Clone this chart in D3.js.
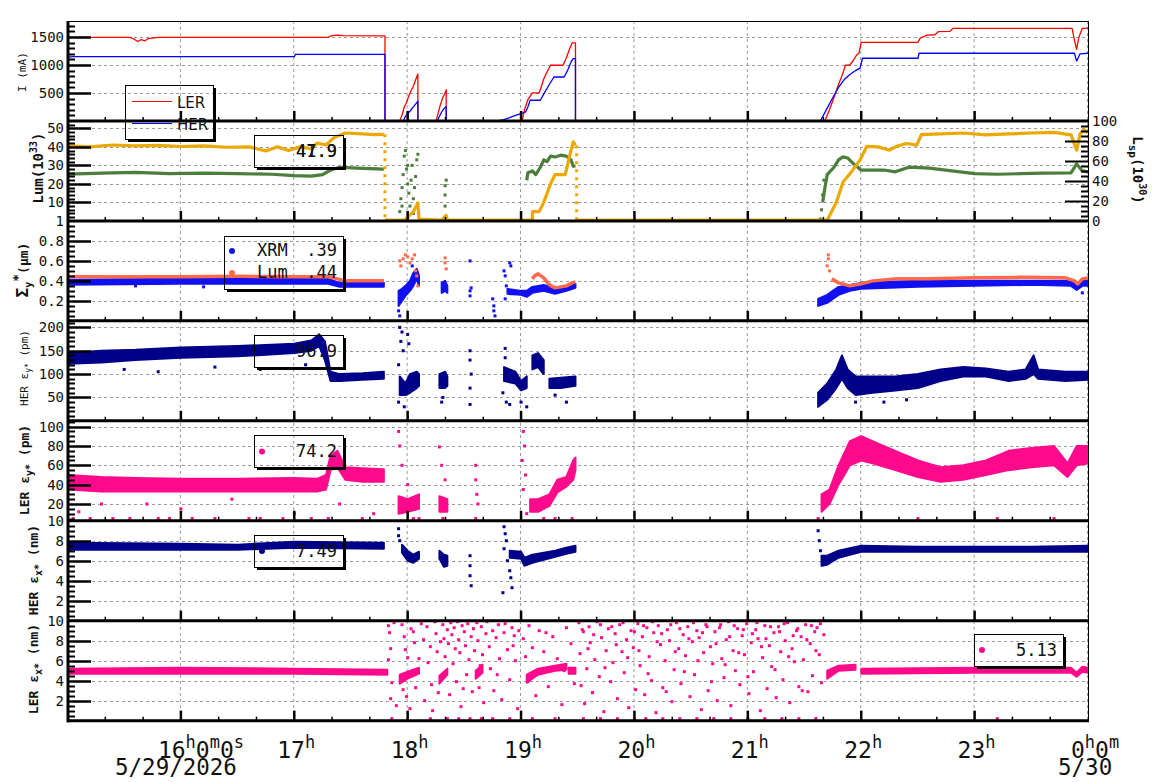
<!DOCTYPE html>
<meta charset="utf-8">
<style>
body { margin: 0; background: #fff; }
text { font-family: "DejaVu Sans Mono", monospace; fill: #111; }
</style>
<svg width="1160" height="782"></svg>
<script src="https://d3js.org/d3.v7.min.js"></script>
<script>

// ---- data (hours of 5/29, value) ----

// beam current (mA)
var lerCurrent = [[15.00,1495],[15.55,1495],[15.58,1470],[15.62,1420],[15.65,1455],[15.68,1430],[15.71,1470],[15.74,1480],[15.80,1495],
  [17.30,1495],[17.33,1525],[17.38,1535],[17.43,1525],[17.80,1520],[17.80,0],[17.93,0],[17.95,100],[17.97,250],[17.99,330],
  [18.01,450],[18.03,540],[18.05,620],[18.07,730],[18.09,840],[18.09,0],[18.25,0],[18.27,150],[18.29,300],[18.31,420],[18.33,500],
  [18.34,560],[18.34,0],[19.01,0],[19.03,200],[19.06,380],[19.10,500],[19.16,500],[19.18,620],[19.20,750],[19.23,880],[19.26,995],
  [19.37,995],[19.40,1130],[19.43,1300],[19.45,1395],[19.48,1395],[19.48,0],[21.68,0],[21.72,200],[21.76,420],[21.80,650],
  [21.84,860],[21.86,995],[21.90,1000],[21.93,1080],[21.96,1180],[21.98,1210],[22.00,1405],[22.50,1405],[22.52,1480],[22.58,1535],
  [22.65,1540],[22.68,1595],[22.78,1600],[22.81,1655],[23.86,1655],[23.88,1450],[23.90,1280],[23.92,1500],[23.95,1655],[24.00,1660]];
var herCurrent = [[15.00,1140],[15.05,1150],[17.00,1150],[17.01,1190],[17.80,1190],[17.80,0],[17.96,0],[17.98,80],[18.01,150],
  [18.03,200],[18.05,250],[18.07,300],[18.09,355],[18.09,0],[18.26,0],[18.28,80],[18.30,160],[18.32,220],[18.34,260],[18.34,0],
  [18.79,0],[18.85,25],[18.90,60],[18.95,100],[19.00,130],[19.04,160],[19.06,250],[19.08,370],[19.17,370],[19.20,480],[19.24,620],
  [19.29,785],[19.38,785],[19.41,900],[19.44,1050],[19.46,1115],[19.48,1115],[19.48,0],[21.64,0],[21.70,230],[21.75,420],
  [21.80,600],[21.85,740],[21.90,830],[21.95,900],[21.99,945],[22.01,1120],[22.50,1120],[22.51,1210],[23.88,1210],[23.90,1070],
  [23.93,1200],[24.00,1210]];

// luminosity (10^33)
var lumOrange = [[15.0,40.5],[15.2,40],[15.4,41],[15.6,40.5],[15.8,40.8],[16.0,40.2],[16.2,40.5],[16.4,39.8],[16.6,40],[16.75,37.8],
  [16.85,40],[16.95,38],[17.05,40],[17.15,39],[17.2,42],[17.28,41],[17.35,45],[17.45,47.5],[17.6,47],[17.7,46.6],[17.79,46.8],[null,null],
  [17.80,0.4],[17.97,0.4],[18.00,2],[18.05,5],[18.09,9.7],[18.10,1],[18.30,0.5],[18.34,3],[18.35,0.4],[19.10,0.4],[19.10,5],[19.16,5],
  [19.20,10],[19.26,20],[19.30,25],[19.39,25],[19.42,33],[19.46,42.7],[19.48,40.9],[null,null],[19.49,0.4],[21.70,0.4],[21.78,10],
  [21.84,21],[21.92,27],[21.99,33],[22.05,40.3],[22.15,40],[22.25,38.2],[22.32,40.5],[22.40,41.8],[22.49,40.9],[22.53,46.6],[22.7,47],
  [22.9,47.5],[23.1,46.5],[23.3,47],[23.5,47.5],[23.7,47.8],[23.85,46.5],[23.90,38.2],[23.93,47],[23.96,49.3],[24.0,47.5]];
var lumOrangeDrops = [[17.80,46.8],[19.49,40.9]];
var lumGreen = [[15.0,25.3],[15.3,25.8],[15.6,26.2],[15.9,25.5],[16.2,25.8],[16.5,25.5],[16.8,25.2],[17.0,24.5],[17.15,24.2],[17.25,25],
  [17.32,27.5],[17.4,29],[17.55,28.5],[17.79,28],[null,null],
  [19.05,22],[19.06,26],[19.10,27],[19.13,25],[19.17,29],[19.20,33],[19.23,32],[19.26,35],[19.30,34.5],[19.35,35.5],[19.40,35],
  [19.44,33],[19.46,29.5],[19.48,29.8],[null,null],
  [21.66,10],[21.68,18],[21.70,25],[21.73,27],[21.76,29],[21.80,33],[21.84,34.6],[21.88,34],[21.93,31],[21.97,29],[22.0,27.4],[22.2,27.5],
  [22.3,26.5],[22.42,29],[22.6,28.5],[22.8,27],[23.0,25.5],[23.2,25.2],[23.4,25.5],[23.6,25.8],[23.85,26],[23.90,30.8],[23.95,27],[24.0,26.5]];
var lumGreenDots = [[17.93,5],[17.94,12],[17.95,18],[17.96,25],[17.97,35],[17.98,38],[17.99,28],[18.00,20],[18.01,15],[18.02,8],[18.03,22],
  [18.04,30],[18.05,12],[18.06,18],[18.07,24],[18.08,33],[18.09,36],[18.05,4],[17.95,8],[18.0,30],[18.33,2],[18.33,8],[18.33,14],
  [18.33,19],[18.34,22],[21.64,1],[21.65,6],[21.66,14],[21.67,22]];

// sigma y* (um)
var sigLum = [[15.0,0.44],[15.5,0.44],[16.0,0.44],[16.5,0.445],[17.0,0.44],[17.3,0.44],[17.38,0.42],[17.45,0.40],[17.79,0.40],[null,null],
  [19.10,0.42],[19.12,0.45],[19.15,0.47],[19.20,0.43],[19.25,0.36],[19.30,0.33],[19.35,0.34],[19.40,0.35],[19.45,0.38],[19.48,0.39],[null,null],
  [21.74,0.42],[21.80,0.38],[21.90,0.35],[22.0,0.37],[22.1,0.40],[22.3,0.42],[22.6,0.42],[23.0,0.43],[23.4,0.435],[23.8,0.43],
  [23.88,0.40],[23.91,0.37],[23.95,0.42],[24.0,0.43]];
var sigLumDots = [[17.93,0.60],[17.94,0.55],[17.96,0.62],[17.98,0.66],[18.00,0.64],[18.02,0.58],[18.04,0.62],[18.06,0.66],[18.07,0.50],
  [18.08,0.45],[18.09,0.35],[18.33,0.63],[18.33,0.58],[18.34,0.52],[21.70,0.55],[21.71,0.62],[21.72,0.50],[21.71,0.66]];
var sigXrm = [[15.0,0.36,0.41],[16.0,0.37,0.42],[17.0,0.37,0.42],[17.3,0.37,0.42],[17.4,0.34,0.38],[17.79,0.34,0.38],[null,null,null],
  [17.92,0.15,0.30],[17.95,0.20,0.32],[17.98,0.25,0.35],[18.02,0.30,0.40],[18.05,0.35,0.48],[18.08,0.42,0.52],[18.10,0.35,0.45],[null,null,null],
  [18.30,0.28,0.38],[18.33,0.30,0.40],[18.35,0.28,0.35],[null,null,null],
  [18.88,0.27,0.32],[19.0,0.26,0.30],[19.05,0.24,0.30],[19.10,0.28,0.34],[19.2,0.30,0.36],[19.3,0.27,0.33],[19.4,0.30,0.35],[19.48,0.33,0.37],[null,null,null],
  [21.62,0.15,0.22],[21.7,0.18,0.26],[21.8,0.26,0.34],[21.9,0.30,0.36],[22.0,0.32,0.38],[22.5,0.34,0.40],[23.0,0.35,0.40],[23.5,0.36,0.40],
  [23.85,0.35,0.40],[23.9,0.31,0.36],[23.95,0.35,0.40],[24.0,0.35,0.40]];
var sigXrmDots = [[18.55,0.30],[18.55,0.25],[18.56,0.33],[18.55,0.60],[18.75,0.22],[18.76,0.15],[18.76,0.10],[18.77,0.05],[18.90,0.58],
  [18.91,0.55],[18.85,0.50],[18.86,0.45],[18.87,0.35],[18.86,0.22],[17.93,0.05],[17.92,0.10],[18.04,0.55],[16.2,0.34],[15.6,0.35],[23.95,0.28]];

// HER eps y* (pm)
var herEy = [[15.0,122,145],[15.3,125,150],[15.6,130,152],[16.0,135,157],[16.5,138,160],[17.0,145,165],[17.15,150,172],[17.22,160,185],
  [17.27,130,170],[17.32,85,105],[17.4,85,100],[17.6,88,102],[17.79,90,105],[null,null,null],
  [17.93,55,95],[17.98,55,80],[18.02,60,100],[18.08,70,105],[18.10,75,100],[null,null,null],[18.28,70,100],[18.33,70,105],[18.35,75,95],[null,null,null],
  [18.85,85,115],[18.95,80,105],[19.0,65,85],[19.05,70,95],[null,null,null],[19.10,110,140],[19.15,115,145],[19.20,100,130],[null,null,null],
  [19.25,70,90],[19.35,70,92],[19.48,75,95],[null,null,null],
  [21.62,30,60],[21.7,45,80],[21.78,70,110],[21.83,90,140],[21.88,70,110],[21.95,55,95],[22.1,60,95],[22.3,65,95],[22.5,70,100],
  [22.7,85,110],[22.9,95,115],[23.1,95,112],[23.3,85,105],[23.45,90,110],[23.52,100,140],[23.56,90,110],[23.8,85,105],[24.0,88,105]];
var herEyDots = [[17.93,200],[17.95,190],[17.94,170],[17.96,150],[18.00,185],[18.01,165],[17.92,120],[17.92,40],[17.97,30],[18.30,40],
  [18.31,50],[18.55,150],[18.55,130],[18.56,100],[18.55,70],[18.55,35],[18.86,155],[18.86,135],[18.84,60],[18.87,40],[18.90,35],
  [19.0,40],[19.05,30],[19.3,55],[19.4,40],[15.5,110],[15.8,105],[16.3,115],[16.7,110],[17.1,120],[22.2,40],[22.4,45],[21.95,40]];

// LER eps y* (pm)
var lerEy = [[15.0,35,50],[15.3,33,48],[15.6,33,47],[16.0,33,46],[16.5,33,46],[17.0,33,47],[17.2,33,46],[17.28,35,50],[17.32,55,70],
  [17.38,58,75],[17.45,45,58],[17.6,43,57],[17.79,43,56],[null,null,null],[17.92,10,28],[18.0,12,25],[18.1,15,30],[null,null,null],
  [18.28,12,28],[18.35,12,25],[null,null,null],[19.08,12,25],[19.15,12,25],[19.25,18,30],[19.32,32,45],[19.4,38,48],[19.46,45,65],
  [19.48,55,68],[null,null,null],[21.65,12,30],[21.72,20,35],[21.8,40,60],[21.9,60,85],[22.0,65,90],[22.1,62,85],[22.3,55,75],
  [22.5,48,65],[22.7,43,58],[22.9,45,60],[23.1,50,65],[23.3,55,75],[23.5,58,78],[23.7,60,80],[23.82,48,62],[23.9,60,80],[24.0,62,80]];
var lerEyDots = [[15.05,5],[15.1,12],[15.2,5],[15.3,20],[15.4,5],[15.55,5],[15.7,20],[15.8,5],[15.9,5],[16.0,15],[16.1,5],[16.3,5],
  [16.45,25],[16.6,5],[16.7,5],[16.9,5],[17.0,10],[17.15,5],[17.3,5],[17.4,20],[17.6,5],[17.7,10],[17.92,95],[17.93,80],[17.95,60],
  [18.0,40],[18.05,5],[18.1,5],[18.28,79],[18.3,60],[18.33,45],[18.31,5],[18.6,60],[18.6,45],[18.61,30],[18.62,20],[18.6,5],
  [19.02,95],[19.03,80],[19.01,65],[19.04,50],[19.02,35],[19.05,10],[19.2,5],[19.3,5],[19.45,5],[21.62,5],[22.5,5],[23.2,5],[23.7,5]];

// HER eps x* (nm)
var herEx = [[15.0,7.1,7.8],[16.0,7.1,7.7],[16.5,7.1,7.6],[17.0,7.3,7.9],[17.79,7.2,7.8],[null,null,null],
  [17.95,6.8,7.6],[18.0,6.0,7.0],[18.05,5.8,6.6],[18.1,6.2,6.9],[null,null,null],[18.28,6.2,7.0],[18.32,5.4,6.6],[18.35,5.5,6.5],[null,null,null],
  [18.9,6.3,7.0],[19.0,6.2,6.9],[19.03,5.5,6.3],[19.1,5.8,6.6],[19.2,6.1,6.8],[19.3,6.4,7.0],[19.4,6.7,7.3],[19.48,6.9,7.5],[null,null,null],
  [21.65,5.5,6.5],[21.7,5.6,6.5],[21.8,6.3,7.0],[22.0,6.9,7.5],[22.5,6.9,7.4],[23.0,6.9,7.4],[23.5,6.9,7.4],[24.0,6.9,7.5]];
var herExDots = [[17.92,9.2],[17.92,8.5],[17.93,8.0],[18.55,6.5],[18.55,5.5],[18.55,4.5],[18.56,3.5],[18.85,9.4],[18.86,8.7],[18.87,8],
  [18.85,7.2],[18.88,6],[18.9,5],[18.91,4.3],[18.92,3.3],[18.84,2.8],[21.62,9.0],[21.63,8.0],[21.64,7.0]];

// LER eps x* (nm)
var lerEx = [[15.0,4.7,5.2],[16.0,4.7,5.3],[17.0,4.7,5.2],[17.82,4.6,5.1],[null,null,null],[17.93,3.7,4.6],[18.0,4.2,4.9],[18.1,4.7,5.3],
  [null,null,null],[18.28,3.7,4.5],[18.35,4.6,5.2],[null,null,null],[18.6,4.2,5.0],[18.66,4.8,5.6],[null,null,null],
  [19.05,3.8,4.6],[19.15,4.6,5.2],[19.3,5.0,5.5],[19.4,5.1,5.7],[null,null,null],[19.42,4.7,5.3],[19.48,4.7,5.3],[null,null,null],
  [21.7,4.2,5.0],[21.8,5.0,5.5],[21.95,5.1,5.6],[null,null,null],[22.0,4.7,5.2],[23.0,4.8,5.3],[23.85,4.8,5.3],[23.9,4.4,4.8],
  [23.95,4.9,5.4],[24.0,4.8,5.3]];
var lerExDots = [[17.83,9.5],[17.84,8.8],[17.85,7.2],[17.83,6.1],[17.86,3.8],[17.85,2.2],[17.88,9.8],[17.9,1.5],
  [17.95,9.6],[17.97,8.4],[17.98,7.1],[18.0,6.3],[17.96,3.1],[17.99,2.4],[18.02,1.2],[18.03,9.2],[18.05,8.9],[18.06,7.8],[18.07,3.3],
  [18.1,6.2],[18.12,9.7],[18.14,8.1],[18.15,2.0],[18.17,9.4],[18.18,5.8],[18.2,7.4],[18.21,3.6],[18.22,1.0],[18.24,9.9],[18.25,8.7],
  [18.26,6.9],[18.27,2.8],[18.29,7.9],[18.31,9.6],[18.32,8.2],[18.33,6.4],[18.35,9.1],[18.36,7.7],[18.37,2.6],[18.38,9.8],[18.39,8.6],
  [18.4,5.7],[18.41,9.3],[18.42,7.2],[18.43,3.9],[18.44,9.9],[18.45,8.1],[18.46,6.8],[18.47,1.4],[18.48,9.5],[18.5,8.9],[18.51,7.5],
  [18.52,4.6],[18.53,9.7],[18.54,6.1],[18.56,8.4],[18.57,2.9],[18.58,9.2],[18.59,7.0],[18.61,9.8],[18.62,8.0],[18.63,3.3],[18.65,9.4],
  [18.66,6.6],[18.67,1.8],[18.69,8.7],[18.7,9.9],[18.72,7.4],[18.73,5.2],[18.75,9.0],[18.76,3.0],[18.78,8.3],[18.8,9.6],[18.81,6.2],
  [18.83,2.1],[18.85,8.8],[18.86,9.7],[18.88,7.1],[18.9,4.1],[18.92,9.3],[18.94,8.5],[18.95,6.0],[18.97,1.2],[18.98,9.0],
  [19.02,8.2],[19.04,6.4],[19.07,9.5],[19.1,7.3],[19.13,2.5],[19.16,9.0],[19.2,6.9],[19.24,3.4],[19.28,8.4],[19.32,6.2],[19.36,1.6],
  [19.4,9.3],[19.44,7.7],[19.47,3.7],
  [19.51,9.8],[19.52,6.7],[19.53,3.5],[19.55,8.9],[19.56,1.7],[19.58,5.2],[19.6,9.4],[19.61,7.8],[19.63,2.8],[19.65,6.1],[19.67,9.9],
  [19.69,4.4],[19.71,8.3],[19.73,0.9],[19.75,7.0],[19.77,9.2],[19.79,3.9],[19.81,5.8],[19.83,8.7],[19.85,2.2],[19.87,9.6],[19.89,6.9],
  [19.91,4.8],[19.93,8.1],[19.95,1.3],[19.97,9.0],[19.99,7.3],[20.01,3.1],[20.03,9.7],[20.05,5.5],[20.07,8.4],[20.09,2.6],[20.11,9.3],
  [20.13,6.4],[20.15,4.0],[20.17,8.8],[20.19,0.8],[20.21,9.5],[20.23,7.6],[20.25,3.3],[20.27,6.0],[20.29,9.1],[20.31,8.0],[20.33,1.9],
  [20.35,5.1],[20.37,9.8],[20.39,7.2],[20.41,3.7],[20.43,8.6],[20.45,6.5],[20.47,9.4],[20.49,2.4],[20.51,7.9],[20.53,4.6],[20.55,9.0],
  [20.57,8.3],[20.59,1.1],[20.61,6.8],[20.63,9.6],[20.65,3.0],[20.67,7.4],[20.69,5.7],[20.71,8.9],[20.73,2.0],[20.75,9.3],[20.77,6.2],
  [20.79,4.3],[20.81,8.1],[20.83,9.9],[20.85,1.5],[20.87,7.0],[20.89,5.0],[20.91,9.2],[20.93,3.6],[20.95,8.5],[20.97,6.6],[20.99,9.7],
  [21.01,2.7],[21.03,7.8],[21.05,4.9],[21.07,9.1],[21.09,8.2],[21.11,1.0],[21.13,6.3],[21.15,9.5],[21.17,3.2],[21.19,7.5],[21.21,5.4],
  [21.23,8.8],[21.25,2.3],[21.27,9.4],[21.29,6.9],[21.31,4.1],[21.33,8.0],[21.35,9.8],[21.37,1.8],[21.39,7.2],[21.41,5.9],[21.43,9.0],
  [21.45,3.4],[21.47,8.4],[21.49,6.1],[21.51,9.6],[21.53,2.9],[21.55,7.7],[21.57,4.5],[21.59,8.9],[21.61,9.3],[21.63,6.6],[21.65,3.8],
  [21.67,8.6],
  [19.54,9.1],[19.59,7.2],[19.64,8.6],[19.7,9.6],[19.74,5.3],[19.8,9.4],[19.84,7.6],[19.9,9.8],[19.94,6.3],[20.0,8.9],[20.04,7.0],
  [20.08,9.5],[20.12,4.7],[20.16,9.9],[20.2,7.9],[20.24,8.7],[20.28,2.9],[20.32,9.6],[20.36,6.9],[20.4,9.2],[20.44,4.9],[20.48,8.2],
  [20.52,9.8],[20.56,6.0],[20.6,8.8],[20.64,9.4],[20.68,3.9],[20.72,7.7],[20.76,9.6],[20.8,5.6],[20.84,8.4],[20.88,9.5],[20.92,6.8],
  [20.96,9.1],[21.0,4.4],[21.04,8.7],[21.08,9.8],[21.12,7.4],[21.16,8.2],[21.2,9.4],[21.24,5.1],[21.28,8.9],[21.32,9.7],[21.36,6.4],
  [21.4,8.5],[21.44,9.2],[21.48,3.0],[21.52,8.1],[21.56,9.5],[21.6,7.0],[21.64,9.7],[18.34,4.9],[18.49,3.2],[18.64,5.5],[18.79,4.6],
  [18.93,7.5],[19.06,3.9],[19.22,8.8],[19.38,5.0],
  [17.86,0.2],[18.2,0.2],[18.35,0.2],[18.45,0.2],[18.55,0.2],[18.65,0.2],[18.75,0.2],[18.9,0.2],[19.1,0.2],[19.3,0.2],
  [19.55,0.2],[19.7,0.2],[19.85,0.2],[20.0,0.2],[20.1,0.2],[20.25,0.2],[20.4,0.2],[20.55,0.2],[20.7,0.2],[20.85,0.2],[21.0,0.2],
  [21.15,0.2],[21.3,0.2],[21.45,0.2],[21.6,0.2],[23.2,0.2]];

// legend values
var legendLum = ["41.9", "47.9"];
var legendSig = [["XRM", ".39"], ["Lum", ".44"]];
var legendHerEy = "96.9", legendLerEy = "74.2", legendHerEx = "7.49", legendLerEx = "5.13";

// time axis
var hourTicks = [16, 17, 18, 19, 20, 21, 22, 23, 24];
var hourLabels = [["16","h","0","m","0","s"],["17","h"],["18","h"],["19","h"],["20","h"],["21","h"],["22","h"],["23","h"],["0","h","0","m"]];
var dateLabels = [[16, "5/29/2026"], [24, "5/30"]];

// ---- drawing ----
var svg = d3.select("svg");
var x = d3.scaleLinear().domain([15, 24]).range([67.5, 1088]);
var top0 = 21, ph = 99.95, left = 68, right = 1088;

var colLER = "#ff0000", colHER = "#0000ff", colOrange = "#eba800", colGreen = "#4b7d3b",
    colTomato = "#ff6a4d", colXrm = "#1010f0", colNavy = "#000088", colPink = "#ff0a8c";

// panel settings: domain, major ticks, minor step
var panels = [
  {dom: [0, 1786], major: [500, 1000, 1500], minor: 100},
  {dom: [0, 54], major: [10, 20, 30, 40, 50], minor: 2},
  {dom: [0, 1], major: [0.2, 0.4, 0.6, 0.8, 1], minor: 0.05, fmt: function(v) { return v == 1 ? "1" : v.toFixed(1); }},
  {dom: [0, 214], major: [50, 100, 150, 200], minor: 10},
  {dom: [2.7, 106], major: [20, 40, 60, 80, 100], minor: 5},
  {dom: [0, 10], major: [2, 4, 6, 8, 10], minor: 0.5},
  {dom: [0, 10], major: [2, 4, 6, 8, 10], minor: 0.5}
];
panels.forEach(function(p, i) {
  p.top = top0 + i * ph;
  p.bottom = top0 + (i + 1) * ph;
  p.y = d3.scaleLinear().domain(p.dom).range([p.bottom, p.top]);
});
var yR = d3.scaleLinear().domain([0, 100]).range([panels[1].bottom, panels[1].top]);

var defs = svg.append("defs");
panels.forEach(function(p, i) {
  defs.append("clipPath").attr("id", "clip" + i)
    .append("rect").attr("x", left).attr("y", p.top).attr("width", right - left).attr("height", p.bottom - p.top);
});

// grid
var grid = svg.append("g").attr("stroke", "#9a9a9a").attr("stroke-dasharray", "3,3").attr("stroke-width", 1);
hourTicks.forEach(function(h) {
  grid.append("line").attr("x1", x(h) - 0.5).attr("x2", x(h) - 0.5).attr("y1", top0).attr("y2", panels[6].bottom);
});
panels.forEach(function(p) {
  p.major.forEach(function(v) {
    var yy = Math.round(p.y(v)) + 0.5;
    if (yy > p.top + 2) grid.append("line").attr("x1", left).attr("x2", right).attr("y1", yy).attr("y2", yy);
  });
});

function isDef(d) { return d[0] != null && d[1] != null; }

function lineIn(i, data, color, w) {
  var y = panels[i].y;
  svg.append("path").datum(data).attr("clip-path", "url(#clip" + i + ")")
    .attr("fill", "none").attr("stroke", color).attr("stroke-width", w).attr("stroke-linejoin", "round")
    .attr("d", d3.line().defined(isDef).x(function(d) { return x(d[0]); }).y(function(d) { return y(d[1]); }));
}
function bandIn(i, data, color) {
  var y = panels[i].y;
  svg.append("path").datum(data).attr("clip-path", "url(#clip" + i + ")")
    .attr("fill", color).attr("stroke", color).attr("stroke-width", 2).attr("stroke-linejoin", "round")
    .attr("d", d3.area().defined(isDef).x(function(d) { return x(d[0]); })
      .y0(function(d) { return y(d[1]); }).y1(function(d) { return y(d[2]); }));
}
function dotsIn(i, data, color, s) {
  var y = panels[i].y;
  svg.append("g").attr("clip-path", "url(#clip" + i + ")").attr("fill", color)
    .selectAll("rect").data(data).enter().append("rect")
    .attr("x", function(d) { return x(d[0]) - s / 2; }).attr("y", function(d) { return y(d[1]) - s / 2; })
    .attr("width", s).attr("height", s);
}

// panel 1: currents
lineIn(0, lerCurrent, colLER, 1.3);
lineIn(0, herCurrent, colHER, 1.3);
// panel 2: luminosity
lineIn(1, lumGreen, colGreen, 3.2);
dotsIn(1, lumGreenDots, colGreen, 3);
lineIn(1, lumOrange, colOrange, 3.2);
svg.append("g").attr("clip-path", "url(#clip1)").selectAll("line").data(lumOrangeDrops).enter().append("line")
  .attr("x1", function(d) { return x(d[0]); }).attr("x2", function(d) { return x(d[0]); })
  .attr("y1", function(d) { return panels[1].y(d[1]); }).attr("y2", panels[1].y(0))
  .attr("stroke", colOrange).attr("stroke-width", 3).attr("stroke-dasharray", "3,5");
// panel 3: sigma y
bandIn(2, sigXrm, colXrm);
dotsIn(2, sigXrmDots, colXrm, 3);
lineIn(2, sigLum, colTomato, 3.5);
dotsIn(2, sigLumDots, colTomato, 3);
// panels 4..7: emittances
bandIn(3, herEy, colNavy);
dotsIn(3, herEyDots, colNavy, 3);
bandIn(4, lerEy, colPink);
dotsIn(4, lerEyDots, colPink, 3);
bandIn(5, herEx, colNavy);
dotsIn(5, herExDots, colNavy, 3);
dotsIn(6, lerExDots, colPink, 3);
bandIn(6, lerEx, colPink);

// axes
var ax = svg.append("g").attr("stroke", "#000");
panels.forEach(function(p, i) {
  d3.range(p.dom[0] - p.dom[0] % p.minor + p.minor, p.dom[1], p.minor).forEach(function(v) {
    var yy = Math.round(p.y(v)) + 0.5;
    if (yy < p.top + 1 || yy > p.bottom - 1) return;
    var isMajor = p.major.some(function(m) { return Math.abs(m - v) < 1e-6; });
    ax.append("line").attr("x1", left).attr("x2", left + (isMajor ? 23 : 7)).attr("y1", yy).attr("y2", yy)
      .attr("stroke-width", isMajor ? 2.5 : 2);
  });
  p.major.forEach(function(v) {
    svg.append("text").attr("x", 64).attr("y", p.y(v)).attr("dy", "0.35em").attr("text-anchor", "end")
      .style("font-size", "14px").text(p.fmt ? p.fmt(v) : v);
  });
  // time ticks at the panel bottom
  d3.range(15 + 1 / 3, 24, 1 / 3).forEach(function(h) {
    var isHour = Math.abs(h - Math.round(h)) < 1e-6;
    ax.append("line").attr("x1", x(h)).attr("x2", x(h)).attr("y1", p.bottom).attr("y2", p.bottom - (isHour ? 10 : 4))
      .attr("stroke-width", isHour ? 2.5 : 1.5);
  });
  ax.append("line").attr("x1", left - 1).attr("x2", right + 1).attr("y1", p.bottom).attr("y2", p.bottom).attr("stroke-width", 3);
});
// right axis of the luminosity panel
d3.range(5, 100, 5).forEach(function(v) {
  var yy = Math.round(yR(v)) + 0.5;
  var isMajor = v % 20 == 0;
  ax.append("line").attr("x1", right).attr("x2", right - (isMajor ? 23 : 7)).attr("y1", yy).attr("y2", yy).attr("stroke-width", 2);
});
[0, 20, 40, 60, 80, 100].forEach(function(v) {
  svg.append("text").attr("x", 1092).attr("y", yR(v)).attr("dy", "0.35em").style("font-size", "14px").text(v);
});
ax.append("line").attr("x1", left).attr("x2", left).attr("y1", top0).attr("y2", panels[6].bottom + 1.5).attr("stroke-width", 3);
ax.append("line").attr("x1", left).attr("x2", right).attr("y1", top0 + 0.5).attr("y2", top0 + 0.5).attr("stroke-width", 1);
ax.append("line").attr("x1", right + 0.5).attr("x2", right + 0.5).attr("y1", top0).attr("y2", panels[6].bottom).attr("stroke-width", 1);

// time labels
hourTicks.forEach(function(h, i) {
  var parts = hourLabels[i];
  var t = svg.append("text").attr("x", x(h) - (i == 0 ? 23 : 17)).attr("y", 758).style("font-size", "23px");
  parts.forEach(function(s, k) {
    var sup = k % 2 == 1;
    t.append("tspan").attr("dy", k == 0 ? 0 : (sup ? -10 : 10)).style("font-size", sup ? "17px" : "23px").text(s);
  });
});
dateLabels.forEach(function(d) {
  svg.append("text").attr("x", d[0] == 16 ? 115 : 1058).attr("y", 775).style("font-size", "22.5px").text(d[1]);
});

// axis titles
function vtitle(xp, yp, rot, size, weight, parts) {
  var t = svg.append("text").attr("transform", "translate(" + xp + "," + yp + ") rotate(" + rot + ")")
    .attr("text-anchor", "middle").style("font-size", size + "px").style("font-weight", weight);
  parts.forEach(function(s) {
    t.append("tspan").attr("dy", s[1] || 0).style("font-size", (s[2] || size) + "px").text(s[0]);
  });
}
vtitle(26, 72, -90, 11, "normal", [["I (mA)"]]);
vtitle(43, 168, -90, 14, "bold", [["Lum(10"], ["33", -6, 10], [")", 6]]);
vtitle(28, 270, -90, 13, "bold", [["Σ", 0, 16], ["y", 4, 10], ["*", -10], ["(μm)", 6]]);
vtitle(28, 368, -90, 11, "normal", [["HER ε"], ["y*", 3, 8], [" (pm)", -3]]);
vtitle(29, 470, -90, 13, "bold", [["LER ε"], ["y*", 4, 10], [" (pm)", -4]]);
vtitle(38, 570, -90, 13, "bold", [["HER ε"], ["x*", 4, 10], [" (nm)", -4]]);
vtitle(38, 669, -90, 13, "bold", [["LER ε"], ["x*", 4, 10], [" (nm)", -4]]);
vtitle(1133, 170, 90, 14, "bold", [["L"], ["sp", 4, 11], ["(10", -4], ["30", -6, 10], [")", 6]]);

// legends
function box(x0, y0, w, h) {
  svg.append("rect").attr("x", x0 + 0.5).attr("y", y0 + 0.5).attr("width", w).attr("height", h)
    .attr("fill", "none").attr("stroke", "#000").attr("stroke-width", 1);
  svg.append("path").attr("d", "M" + (x0 + w + 2) + "," + (y0 + 3) + "V" + (y0 + h + 2) + "H" + (x0 + 3))
    .attr("fill", "none").attr("stroke", "#000").attr("stroke-width", 2);
}
function val(xe, yb, s) {
  svg.append("text").attr("x", xe).attr("y", yb).attr("text-anchor", "end").style("font-size", "17px").text(s);
}
function dot(cx, cy, c) {
  svg.append("circle").attr("cx", cx).attr("cy", cy).attr("r", 3).attr("fill", c);
}

box(125, 85, 88, 54);
svg.append("line").attr("x1", 132).attr("x2", 172).attr("y1", 101.5).attr("y2", 101.5).attr("stroke", colLER);
svg.append("line").attr("x1", 132).attr("x2", 172).attr("y1", 123.5).attr("y2", 123.5).attr("stroke", colHER);
svg.append("text").attr("x", 177).attr("y", 108).style("font-family", "DejaVu Sans").style("font-size", "15px").text("LER");
svg.append("text").attr("x", 177).attr("y", 130).style("font-family", "DejaVu Sans").style("font-size", "15px").text("HER");

box(254, 135, 89, 32);
legendLum.forEach(function(s) { val(337, 157, s); });

box(224, 236, 119, 53);
legendSig.forEach(function(r, k) {
  var yb = 256 + k * 22;
  dot(232, yb - 5, k == 0 ? colXrm : colTomato);
  svg.append("text").attr("x", 257).attr("y", yb).style("font-size", "17px").text(r[0]);
  val(337, yb, r[1]);
});

box(254, 335, 89, 32); dot(262, 351, colNavy); val(337, 357, legendHerEy);
box(254, 435, 89, 32); dot(262, 451.5, colPink); val(337, 457, legendLerEy);
box(254, 535, 89, 32); dot(262, 551, colNavy); val(337, 557, legendHerEx);
box(974, 634, 89, 32); dot(982, 650, colPink); val(1057, 656, legendLerEx);

</script>
